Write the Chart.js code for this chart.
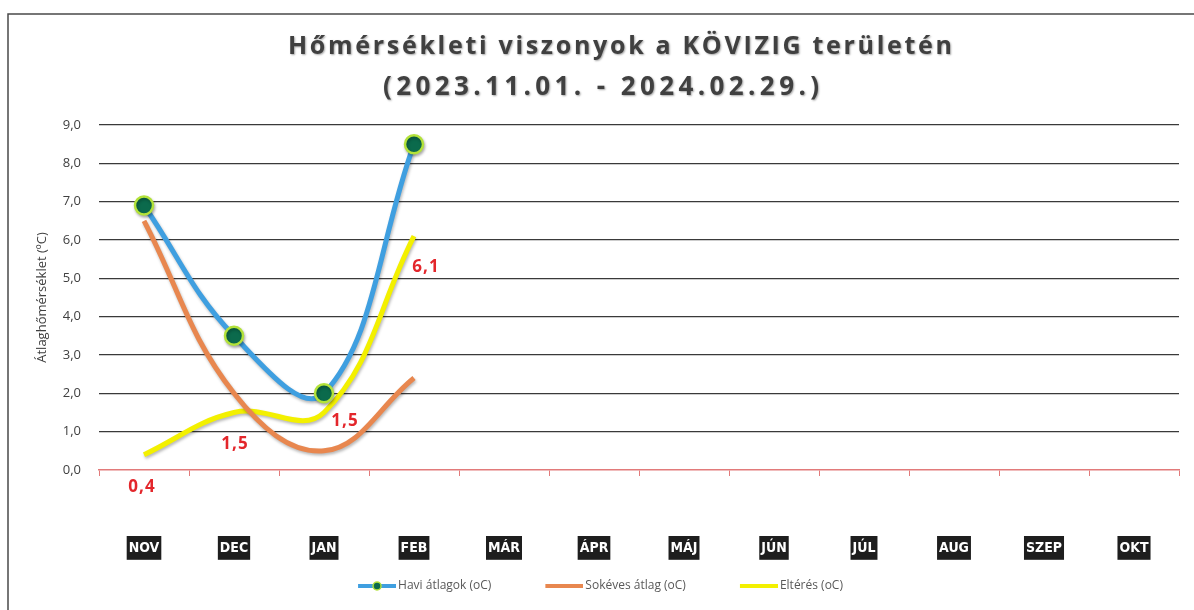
<!DOCTYPE html>
<html>
<head>
<meta charset="utf-8">
<script src="https://cdn.jsdelivr.net/npm/chart.js@4.4.1/dist/chart.umd.min.js"></script>
<style>
html,body{margin:0;padding:0;background:#fff;}
#wrap{position:relative;width:1194px;height:610px;}
</style>
</head>
<body>
<div id="wrap"><canvas id="c" width="1194" height="610"></canvas></div>
<script>
// ---- data ----
const categories = ['NOV','DEC','JAN','FEB','MÁR','ÁPR','MÁJ','JÚN','JÚL','AUG','SZEP','OKT'];
const haviAtlagok = [6.9, 3.5, 2.0, 8.5];
const sokevesAtlag = [6.5, 2.0, 0.5, 2.4];
const elteres = [0.4, 1.5, 1.5, 6.1];
const yTicks = [0, 1, 2, 3, 4, 5, 6, 7, 8, 9];
const seriesNames = ['Havi átlagok (oC)', 'Sokéves átlag (oC)', 'Eltérés (oC)'];
const titleLines = ['Hőmérsékleti viszonyok a KÖVIZIG területén', '(2023.11.01. - 2024.02.29.)'];
const yAxisTitle = 'Átlaghőmérséklet (ºC)';

// ---- styles ----
const BLUE = '#3f9fe0', ORANGE = '#e8874f', YELLOW = '#f3f000';
const DOT_FILL = '#0b6a4c', DOT_BORDER = '#b3e23a';
const fmt = v => v.toFixed(1).replace('.', ',');
const PAD_BOTTOM = 8;
const SWATCH_BOX = 82, SWATCH_LINE = 38, SWATCH_REACH = 4;

function legendSwatch(color, withDot) {
  const h = 12;
  const c = document.createElement('canvas');
  c.width = SWATCH_BOX + 2 * SWATCH_REACH; c.height = h;
  const g = c.getContext('2d');
  const x1 = c.width, x0 = x1 - SWATCH_LINE;
  g.strokeStyle = color; g.lineWidth = 4;
  g.beginPath(); g.moveTo(x0, h/2); g.lineTo(x1, h/2); g.stroke();
  if (withDot) {
    g.beginPath(); g.arc((x0 + x1) / 2, h/2, 4, 0, Math.PI*2);
    g.fillStyle = DOT_FILL; g.fill();
    g.lineWidth = 1.5; g.strokeStyle = DOT_BORDER; g.stroke();
  }
  return c;
}
const swatches = [legendSwatch(BLUE, true), legendSwatch(ORANGE, false), legendSwatch(YELLOW, false)];

const framePlugin = {
  id: 'frame',
  beforeDraw(chart) {
    const ctx = chart.ctx;
    ctx.save();
    ctx.fillStyle = '#fff';
    ctx.fillRect(0, 0, chart.width, chart.height);
    ctx.strokeStyle = '#4a4a4a'; ctx.lineWidth = 1.5;
    ctx.beginPath();
    ctx.moveTo(8, chart.height); ctx.lineTo(8, 14); ctx.lineTo(chart.width, 14);
    ctx.stroke();
    ctx.restore();
  }
};

const legendShiftPlugin = {
  id: 'legendShift',
  afterLayout(chart) {
    if (chart.legend) { chart.legend.left -= 30; chart.legend.right -= 30; }
  }
};

const titlePlugin = {
  id: 'wideTitle',
  afterDraw(chart) {
    const ctx = chart.ctx;
    const specs = [{cx: 620, cy: 47, w: 664, size: 25}, {cx: 601, cy: 88, w: 436, size: 26}];
    ctx.save();
    ctx.fillStyle = '#404040';
    ctx.textBaseline = 'middle';
    ctx.textAlign = 'left';
    ctx.shadowColor = 'rgba(0,0,0,0.35)';
    ctx.shadowBlur = 2; ctx.shadowOffsetX = 1; ctx.shadowOffsetY = 1;
    titleLines.forEach((t, i) => {
      const s = specs[i];
      ctx.font = "bold " + s.size + "px 'Open Sans', sans-serif";
      ctx.letterSpacing = '0px';
      const natural = ctx.measureText(t).width;
      const ls = (s.w - natural) / (t.length - 1);
      ctx.letterSpacing = ls + 'px';
      ctx.fillText(t, s.cx - s.w / 2, s.cy);
    });
    ctx.restore();
  }
};

const shadowPlugin = {
  id: 'lineShadow',
  beforeDatasetDraw(chart) {
    const ctx = chart.ctx;
    ctx.save();
    ctx.shadowColor = 'rgba(0,0,0,0.28)';
    ctx.shadowBlur = 3; ctx.shadowOffsetX = 1; ctx.shadowOffsetY = 2;
  },
  afterDatasetDraw(chart) { chart.ctx.restore(); }
};

const valueLabelPlugin = {
  id: 'valueLabels',
  afterDatasetsDraw(chart) {
    const offsets = [[-2, 32], [1, 32], [21, 9], [12, 31]];
    const meta = chart.getDatasetMeta(2);
    const ctx = chart.ctx;
    ctx.save();
    ctx.font = "bold 17px 'Open Sans', sans-serif";
    ctx.letterSpacing = '1px';
    ctx.fillStyle = '#e3262b';
    ctx.textAlign = 'center';
    ctx.textBaseline = 'middle';
    meta.data.forEach((pt, i) => {
      const o = offsets[i] || [0, 20];
      ctx.fillText(fmt(elteres[i]), pt.x + o[0], pt.y + o[1]);
    });
    ctx.restore();
  }
};

new Chart(document.getElementById('c'), {
  type: 'line',
  data: {
    labels: categories,
    datasets: [
      { label: seriesNames[0], data: haviAtlagok, borderColor: BLUE, backgroundColor: BLUE, borderWidth: 5,
        pointRadius: 9, pointHoverRadius: 9, pointBackgroundColor: DOT_FILL, pointBorderColor: DOT_BORDER, pointBorderWidth: 2.5,
        tension: 0.4, fill: false },
      { label: seriesNames[1], data: sokevesAtlag, borderColor: ORANGE, backgroundColor: ORANGE, borderWidth: 5,
        pointRadius: 0, tension: 0.4, fill: false },
      { label: seriesNames[2], data: elteres, borderColor: YELLOW, backgroundColor: YELLOW, borderWidth: 5,
        pointRadius: 0, tension: 0.4, fill: false }
    ]
  },
  options: {
    responsive: false,
    animation: false,
    devicePixelRatio: 1,
    layout: { padding: { left: 34, right: 15, top: 125, bottom: PAD_BOTTOM } },
    plugins: {
      title: { display: false },
      tooltip: { enabled: false },
      legend: {
        position: 'bottom',
        labels: {
          usePointStyle: true,
          pointStyleWidth: SWATCH_BOX,
          padding: 6,
          color: '#595959',
          font: { family: "'Open Sans', sans-serif", size: 12 },
          generateLabels(chart) {
            return chart.data.datasets.map((ds, i) => ({
              text: ds.label, pointStyle: swatches[i], fillStyle: ds.borderColor,
              strokeStyle: ds.borderColor, lineWidth: 0, hidden: false, datasetIndex: i, fontColor: '#595959'
            }));
          }
        }
      }
    },
    scales: {
      x: {
        offset: true,
        grid: { offset: true, drawOnChartArea: false, drawTicks: true, tickLength: 6, color: '#e27a7a', lineWidth: 1 },
        border: { display: true, color: '#e27a7a', width: 1.5 },
        ticks: {
          autoSkip: false, maxRotation: 0, minRotation: 0,
          color: '#ffffff',
          font: { family: "'Liberation Sans Narrow', 'DejaVu Sans Condensed', sans-serif", size: 14, weight: 'bold' },
          padding: 64,
          showLabelBackdrop: true,
          backdropColor: '#1e1e1e',
          backdropPadding: { top: 4, bottom: 3, left: 2, right: 2 }
        },
        afterFit(scale) {
          const lg = scale.chart.legend;
          const lh = lg && lg.height ? lg.height : 40;
          scale.height = 610 - 470 - lh - PAD_BOTTOM;
          scale.paddingLeft = 0;
          scale.paddingRight = 0;
        }
      },
      y: {
        min: 0, max: 9,
        afterBuildTicks(scale) { scale.ticks = yTicks.map(v => ({ value: v })); },
        ticks: {
          color: '#404040',
          font: { family: "'Open Sans', sans-serif", size: 13 },
          padding: 18,
          callback: v => fmt(v)
        },
        grid: {
          color: c => (c.tick && c.tick.value === 0) ? 'rgba(0,0,0,0)' : '#3a3a3a',
          lineWidth: 1.3,
          drawTicks: false
        },
        border: { display: false },
        title: {
          display: true, text: yAxisTitle, color: '#404040',
          font: { family: "'Open Sans', sans-serif", size: 13 }, padding: 0
        },
        afterFit(scale) { scale.width = 99 - 34; }
      }
    }
  },
  plugins: [framePlugin, legendShiftPlugin, shadowPlugin, valueLabelPlugin, titlePlugin]
});
</script>
</body>
</html>
